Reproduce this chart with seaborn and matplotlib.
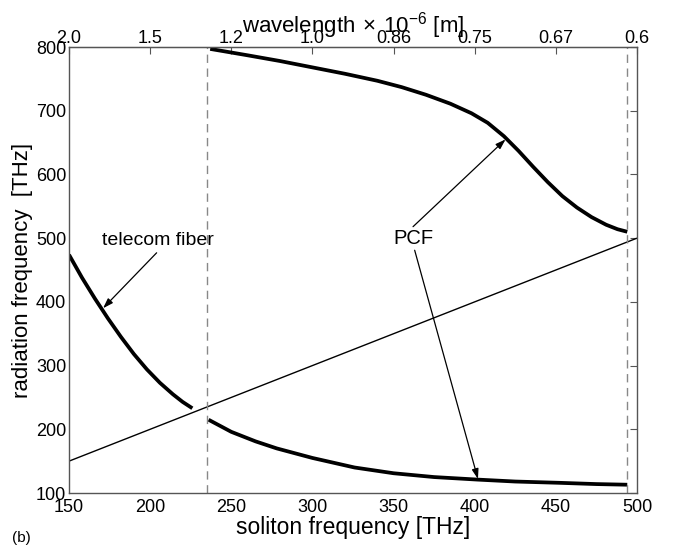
import numpy as np
import pandas as pd
import matplotlib
matplotlib.use("Agg")
import matplotlib.pyplot as plt
import seaborn as sns

# ---- data ----
telecom_x = [150, 158, 166, 174, 182, 190, 198, 206, 214, 220, 226]
telecom_y = [474, 438, 405, 374, 345, 318, 294, 273, 255, 243, 233]

pcf_low_x = [236, 250, 265, 278, 300, 326, 350, 375, 402, 425, 452, 475, 494]
pcf_low_y = [215, 196, 181, 170, 155, 140, 131, 125, 121, 118, 116, 114, 113]

pcf_up_x = [237, 260, 280, 300, 320, 340, 355, 370, 385, 398, 408, 418, 427,
            436, 445, 454, 463, 472, 481, 488, 494]
pcf_up_y = [797, 787, 778, 768, 758, 747, 737, 725, 711, 696, 681, 660, 637,
            612, 588, 566, 548, 533, 521, 514, 510]

diag_x = [150, 500]
diag_y = [150, 500]

dashed_x = [235, 494]

xticks = [150, 200, 250, 300, 350, 400, 450, 500]
yticks = [100, 200, 300, 400, 500, 600, 700, 800]
top_labels = ["2.0", "1.5", "1.2", "1.0", "0.86", "0.75", "0.67", "0.6"]

sns.set_style("white")
plt.rcParams['font.family'] = ['Liberation Sans', 'DejaVu Sans']
plt.rcParams['mathtext.fontset'] = 'custom'
plt.rcParams['mathtext.rm'] = 'Liberation Sans'
plt.rcParams['text.color'] = 'black'
plt.rcParams['axes.labelcolor'] = 'black'
plt.rcParams['xtick.color'] = 'black'
plt.rcParams['ytick.color'] = 'black'
plt.rcParams['lines.solid_joinstyle'] = 'round'
plt.rcParams['lines.solid_capstyle'] = 'butt'

fig = plt.figure(figsize=(6.73, 5.46), dpi=100)
ax = fig.add_axes([69/673, 1-493/546, (637-69)/673, (493-47)/546])

df_t = pd.DataFrame({"x": telecom_x, "y": telecom_y})
df_l = pd.DataFrame({"x": pcf_low_x, "y": pcf_low_y})
df_u = pd.DataFrame({"x": pcf_up_x, "y": pcf_up_y})
df_d = pd.DataFrame({"x": diag_x, "y": diag_y})

sns.lineplot(data=df_d, x="x", y="y", ax=ax, color="black", lw=1.0, sort=False)
for d in (df_t, df_l, df_u):
    sns.lineplot(data=d, x="x", y="y", ax=ax, color="black", lw=2.7, sort=False)

for xv in dashed_x:
    ax.axvline(xv, color="#888888", lw=1.0, ls=(0, (6, 4)))

ax.set_xlim(150, 500)
ax.set_ylim(100, 800)
ax.set_xticks(xticks)
ax.set_yticks(yticks)
ax.tick_params(axis="x", direction="in", length=5, labelsize=13, top=False,
               pad=4, color="#555555", labelcolor="black")
ax.tick_params(axis="y", direction="in", length=5, labelsize=13, right=True,
               pad=2, color="#555555", labelcolor="black")
for s in ax.spines.values():
    s.set_color("#555555")
    s.set_linewidth(1.0)

ax.set_xlabel("soliton frequency [THz]", fontsize=16.5, labelpad=0)
ax.set_ylabel("radiation frequency  [THz]", fontsize=16, labelpad=2)

top = ax.secondary_xaxis("top")
top.set_xticks(xticks)
top.set_xticklabels(top_labels)
top.tick_params(direction="in", length=5, labelsize=13, pad=0, color="#555555",
                labelcolor="black")
top.set_xlabel(r"wavelength$\,\times\,10^{-6}$ [m]", fontsize=16, labelpad=-2)

arrow_kw = dict(arrowstyle="-|>,head_length=0.6,head_width=0.2", color="black", lw=0.9,
                shrinkA=0, shrinkB=0)
ax.text(205, 497, "telecom fiber", fontsize=14, ha="center", va="center")
ax.annotate("", xy=(171, 390), xytext=(204, 477), arrowprops=arrow_kw)

ax.text(362, 499, "PCF", fontsize=14.5, ha="center", va="center")
ax.annotate("", xy=(419, 655), xytext=(362, 518), arrowprops=arrow_kw)
ax.annotate("", xy=(402, 122), xytext=(363, 481), arrowprops=arrow_kw)

fig.text(12/673, 1-538/546, "(b)", fontsize=11, ha="left", va="center")

fig.savefig("out.png", dpi=100)
